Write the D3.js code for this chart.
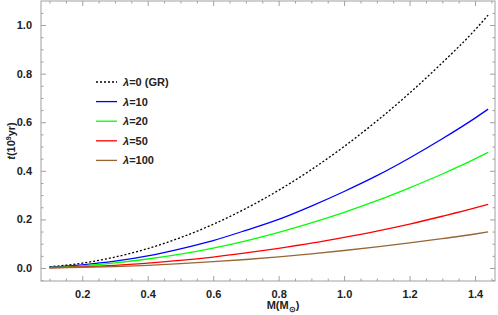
<!DOCTYPE html>
<html>
<head>
<meta charset="utf-8">
<script src="https://cdn.jsdelivr.net/npm/d3@7"></script>
<style>
  body { margin: 0; background: #fff; }
  text { font-family: "Liberation Sans", Arial, sans-serif; font-weight: bold; fill: #222; }
</style>
</head>
<body>
<svg id="chart" width="498" height="315"></svg>
<script>
// data
const masses = [0.1, 0.2, 0.3, 0.4, 0.5, 0.6, 0.7, 0.8, 0.9, 1.0, 1.1, 1.2, 1.3, 1.4, 1.44];
const tGR     = [0.005, 0.020, 0.045, 0.080, 0.125, 0.180, 0.245, 0.320, 0.405, 0.500, 0.605, 0.720, 0.845, 0.980, 1.041];
const tLam10  = [0.003, 0.013, 0.028, 0.050, 0.079, 0.113, 0.155, 0.200, 0.255, 0.315, 0.380, 0.453, 0.532, 0.617, 0.654];
const tLam20  = [0.002, 0.009, 0.021, 0.037, 0.057, 0.082, 0.112, 0.147, 0.186, 0.229, 0.277, 0.330, 0.387, 0.449, 0.476];
const tLam50  = [0.001, 0.005, 0.011, 0.020, 0.031, 0.045, 0.062, 0.081, 0.102, 0.126, 0.152, 0.181, 0.213, 0.247, 0.262];
const tLam100 = [0.001, 0.003, 0.006, 0.011, 0.018, 0.026, 0.035, 0.046, 0.058, 0.072, 0.087, 0.103, 0.121, 0.140, 0.149];

const seriesNames = ['0 (GR)', '10', '20', '50', '100'];
const seriesValues = [tGR, tLam10, tLam20, tLam50, tLam100];
const seriesColors = ['#000000', '#0000ff', '#00ff00', '#ff0000', '#996633'];

const xTicks = [0.2, 0.4, 0.6, 0.8, 1.0, 1.2, 1.4];
const yTicks = [0.0, 0.2, 0.4, 0.6, 0.8, 1.0];

const svg = d3.select('#chart');

const fLeft = 41, fRight = 495, fTop = 1, fBottom = 281;

const x = d3.scaleLinear().domain([0.074, 1.461]).range([fLeft, fRight]);
const y = d3.scaleLinear().domain([-0.0535, 1.099]).range([fBottom, fTop]);

const frameColor = '#a0a0a0';

// frame
svg.append('rect')
  .attr('x', fLeft).attr('y', fTop)
  .attr('width', fRight - fLeft).attr('height', fBottom - fTop)
  .attr('fill', 'none').attr('stroke', frameColor).attr('stroke-width', 1);

// minor ticks every 0.05
const xMinor = d3.range(0.1, 1.46, 0.05).map(v => +v.toFixed(2));
const yMinor = d3.range(-0.05, 1.1, 0.05).map(v => +v.toFixed(2));
const isMajor = v => Math.abs(v * 5 - Math.round(v * 5)) < 1e-6;

// inward ticks on all four sides
const xAxisB = d3.axisBottom(x).tickValues(xTicks).tickSize(-5).tickFormat(d3.format('.1f')).tickPadding(9);
const xAxisT = d3.axisTop(x).tickValues(xTicks).tickSize(-5).tickFormat('');
const yAxisL = d3.axisLeft(y).tickValues(yTicks).tickSize(-5).tickFormat(d3.format('.1f')).tickPadding(9);
const yAxisR = d3.axisRight(y).tickValues(yTicks).tickSize(-5).tickFormat('');

const xMinB = d3.axisBottom(x).tickValues(xMinor.filter(v => !isMajor(v))).tickSize(-2.5).tickFormat('');
const xMinT = d3.axisTop(x).tickValues(xMinor.filter(v => !isMajor(v))).tickSize(-2.5).tickFormat('');
const yMinL = d3.axisLeft(y).tickValues(yMinor.filter(v => !isMajor(v))).tickSize(-2.5).tickFormat('');
const yMinR = d3.axisRight(y).tickValues(yMinor.filter(v => !isMajor(v))).tickSize(-2.5).tickFormat('');

function drawAxis(axis, tx, ty) {
  const g = svg.append('g').attr('transform', `translate(${tx},${ty})`).call(axis);
  g.select('.domain').remove();
  g.selectAll('line').attr('stroke', frameColor);
  g.selectAll('text').attr('font-size', 11).style('font-family', '"Liberation Sans", Arial, sans-serif')
    .attr('font-weight', 'bold').attr('fill', '#222');
  return g;
}
drawAxis(xAxisB, 0, fBottom);
drawAxis(xAxisT, 0, fTop);
drawAxis(yAxisL, fLeft, 0);
drawAxis(yAxisR, fRight, 0);
drawAxis(xMinB, 0, fBottom);
drawAxis(xMinT, 0, fTop);
drawAxis(yMinL, fLeft, 0);
drawAxis(yMinR, fRight, 0);

// curves
const line = d3.line()
  .x((d, i) => x(masses[i]))
  .y(d => y(d))
  .curve(d3.curveMonotoneX);

seriesValues.forEach((vals, k) => {
  svg.append('path')
    .datum(vals)
    .attr('d', line)
    .attr('fill', 'none')
    .attr('stroke', seriesColors[k])
    .attr('stroke-width', 1.3)
    .attr('stroke-dasharray', k === 0 ? '2,2' : null);
});

// legend
const legend = svg.append('g');
seriesNames.forEach((name, k) => {
  const ly = 82 + k * 19.6;
  legend.append('line')
    .attr('x1', 96).attr('x2', 117).attr('y1', ly).attr('y2', ly)
    .attr('stroke', seriesColors[k]).attr('stroke-width', 1.3)
    .attr('stroke-dasharray', k === 0 ? '2,2' : null);
  const t = legend.append('text').attr('x', 123).attr('y', ly + 4).attr('font-size', 11);
  t.append('tspan').attr('font-style', 'italic').text('λ');
  t.append('tspan').text('=' + name);
});

// axis labels
const yl = svg.append('text')
  .attr('transform', 'translate(15,141) rotate(-90)')
  .attr('text-anchor', 'middle')
  .attr('font-size', 11);
yl.append('tspan').attr('font-style', 'italic').text('t');
yl.append('tspan').text('(10');
yl.append('tspan').attr('font-size', 7).attr('dy', -4).text('9');
yl.append('tspan').attr('dy', 4).text('yr)');

const xl = svg.append('text')
  .attr('x', 283).attr('y', 309)
  .attr('text-anchor', 'middle')
  .attr('font-size', 11);
xl.append('tspan').text('M(M');
xl.append('tspan').attr('font-size', 8).attr('dy', 3).text('⊙');
xl.append('tspan').attr('dy', -3).text(')');
</script>
</body>
</html>
